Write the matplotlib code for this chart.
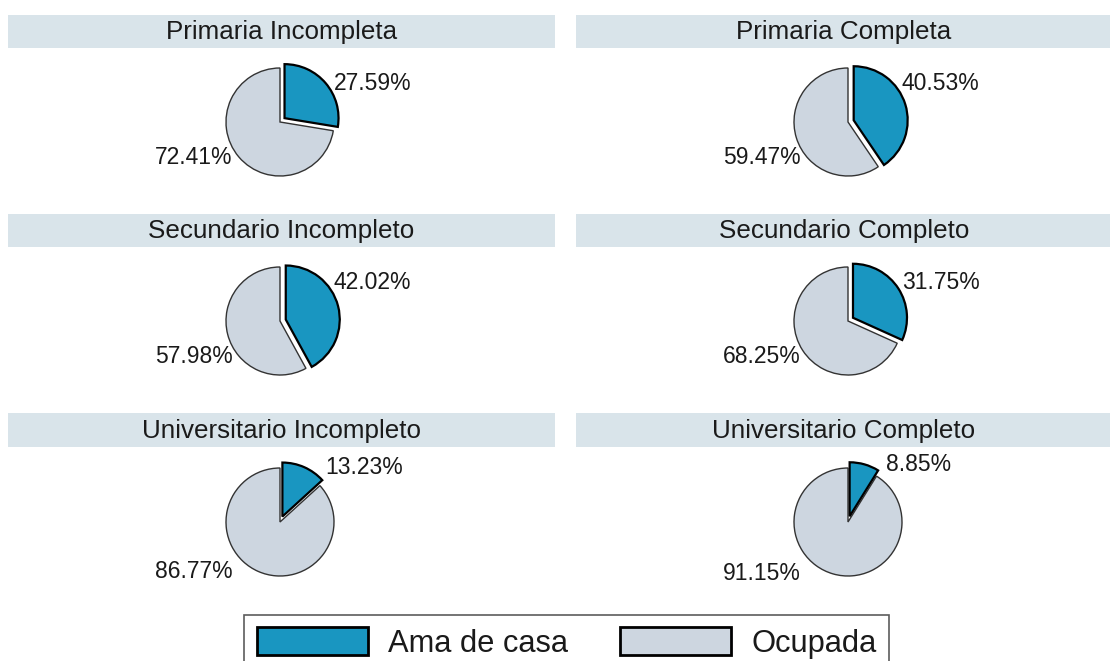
import numpy as np
import matplotlib.pyplot as plt
from matplotlib.patches import Patch

plt.rcParams['font.family'] = ['Liberation Sans', 'DejaVu Sans']

niveles = ['Primaria Incompleta', 'Primaria Completa',
           'Secundario Incompleto', 'Secundario Completo',
           'Universitario Incompleto', 'Universitario Completo']
ama_de_casa = [27.59, 40.53, 42.02, 31.75, 13.23, 8.85]
ocupada = [72.41, 59.47, 57.98, 68.25, 86.77, 91.15]
categorias = ['Ama de casa', 'Ocupada']

col_ama = '#1996c1'
col_ocu = '#cdd6e0'
col_strip = '#d9e4ea'
col_txt = '#1a1a1a'

W, H = 1110, 661
R = 54  # pie radius in px
pie_cx = [280, 848]
pie_cy = [122, 321, 522]
strip_x = [(8, 555), (576, 1112)]
strip_y = [(15, 48), (214, 247), (413, 447)]

fig = plt.figure(figsize=(W / 100, H / 100), dpi=100)

for i, nivel in enumerate(niveles):
    row, col = divmod(i, 2)

    # facet strip
    x0, x1 = strip_x[col]
    y0, y1 = strip_y[row]
    sax = fig.add_axes([x0 / W, 1 - y1 / H, (x1 - x0) / W, (y1 - y0) / H])
    sax.set_facecolor(col_strip)
    sax.set_xticks([])
    sax.set_yticks([])
    for s in sax.spines.values():
        s.set_visible(False)
    sax.text(0.5, 0.47, nivel, ha='center', va='center', fontsize=18.7,
             color=col_txt, transform=sax.transAxes)

    # pie
    cx, cy = pie_cx[col], pie_cy[row]
    k = 1.6
    ax = fig.add_axes([(cx - k * R) / W, 1 - (cy + k * R) / H,
                       2 * k * R / W, 2 * k * R / H])
    pa, po = ama_de_casa[i], ocupada[i]
    wedges, _ = ax.pie([pa, po], explode=[0.11, 0], startangle=90,
                       counterclock=False, colors=[col_ama, col_ocu])
    wedges[0].set_edgecolor('black')
    wedges[0].set_linewidth(1.6)
    wedges[1].set_edgecolor('#333333')
    wedges[1].set_linewidth(1.0)
    wedges[0].set_zorder(3)
    ax.set_xlim(-k, k)
    ax.set_ylim(-k, k)
    ax.axis('off')

    frac = pa / (pa + po)
    mid_a = np.radians(90 - frac * 180)
    mid_o = np.radians(-90 - frac * 180)
    xa = min(1.0, 1.1 * np.cos(mid_a) + 0.4)
    ya = max(0.72, 1.1 * np.sin(mid_a))
    yo = -max(0.65, abs(np.sin(mid_o)))
    ax.text(xa, ya, '%.2f%%' % pa, ha='left', va='center', fontsize=16.5,
            color=col_txt, clip_on=False)
    ax.text(-0.88, yo, '%.2f%%' % po, ha='right', va='center', fontsize=16.5,
            color=col_txt, clip_on=False)

handles = [Patch(facecolor=col_ama, edgecolor='black', linewidth=2),
           Patch(facecolor=col_ocu, edgecolor='black', linewidth=2)]
leg = fig.legend(handles, categorias, loc='upper center', ncol=2,
                 bbox_to_anchor=(566.5 / W, 1 - 615 / H), fontsize=22.2,
                 handlelength=3.6, handleheight=0.98, handletextpad=0.65,
                 columnspacing=1.7, borderpad=0.4, fancybox=False,
                 frameon=True, borderaxespad=0)
leg.get_frame().set_edgecolor('#333333')
leg.get_frame().set_linewidth(1.2)
for t in leg.get_texts():
    t.set_color(col_txt)

fig.savefig('out.png', dpi=100)
